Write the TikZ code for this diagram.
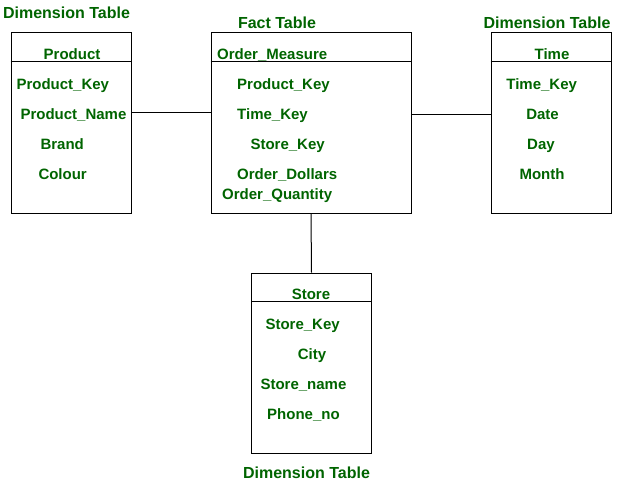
\documentclass[tikz,border=0pt]{standalone}
\usepackage{fontspec}
\setmainfont{Liberation Sans}
\usetikzlibrary{positioning}
\definecolor{darkgreen}{RGB}{0,100,0}

\begin{document}
\begin{tikzpicture}[x=1pt, y=-1pt, line width=1pt,
    table node/.style={rectangle, draw, inner sep=0pt, minimum width=120pt, minimum height=180pt},
    title node/.style={text=darkgreen, font=\fontsize{16}{19}\selectfont\bfseries, inner sep=0pt, text height=11.4pt, text depth=0pt}]
        \tikzstyle{every node}=[text=darkgreen, font=\fontsize{15}{18}\selectfont\bfseries, inner sep=0pt, text height=10.7pt, text depth=0pt]
        \useasboundingbox (0,0) rectangle (623,484);

          % the four tables
          \node[table node] (product) at (71,123) {};
          \node[table node, minimum width=200pt] (fact) at (311,123) {};
          \node[table node] (time) at (551,123) {};
          \node[table node] (store) at (311.5,363) {};

          \draw ([yshift=-29pt]product.north west) -- ([yshift=-29pt]product.north east);
          \draw ([yshift=-29pt]fact.north west) -- ([yshift=-29pt]fact.north east);
          \draw ([yshift=-29pt]time.north west) -- ([yshift=-29pt]time.north east);
          \draw ([yshift=-29pt]store.north west) -- ([yshift=-29pt]store.north east);

          % titles
          \node[title node] (prodtitle) at (66.5,13) {Dimension Table};
          \node[title node] (facttitle) at (277,22.7) {Fact Table};
          \node[title node] (timetitle) at (547,22.7) {Dimension Table};
          \node[title node] (storetitle) at (306.5,473) {Dimension Table};

          % product
          \node[] (prodhead) at (72,54) {Product};
          \node[anchor=west] (prodkey) at (16,84) {Product\_Key};
          \node[anchor=west] (prodname) at (20,114) {Product\_Name};
          \node[anchor=west] (brand) at (40,144) {Brand};
          \node[anchor=west] (colour) at (38,174) {Colour};

          % fact
          \node[anchor=west] (facthead) at (216.7,54) {Order\_Measure};
          \node[anchor=west] (factprod) at (236.7,84) {Product\_Key};
          \node[anchor=west] (facttime) at (236.7,114) {Time\_Key};
          \node[anchor=west] (factstore) at (250,144) {Store\_Key};
          \node[anchor=west] (dollars) at (236.7,174) {Order\_Dollars};
          \node[anchor=west] (quantity) at (221.7,194) {Order\_Quantity};

          % time
          \node[] (timehead) at (552,54) {Time};
          \node[] (timekey) at (541.7,84) {Time\_Key};
          \node[] (date) at (542.5,114) {Date};
          \node[] (day) at (541,144) {Day};
          \node[] (month) at (542,174) {Month};

          % store
          \node[] (storehead) at (311,294) {Store};
          \node[anchor=west] (storekey) at (265,324) {Store\_Key};
          \node[] (city) at (312,354) {City};
          \node[anchor=west] (storename) at (260,384) {Store\_name};
          \node[anchor=west] (phone) at (266.7,414) {Phone\_no};

          \draw ([yshift=10pt]product.east) -- ([yshift=10pt]fact.west);
          \draw ([yshift=8pt]fact.east) -- ([yshift=8pt]time.west);
          \draw (fact.south) -- (store.north);

        \end{tikzpicture}
\end{document}
